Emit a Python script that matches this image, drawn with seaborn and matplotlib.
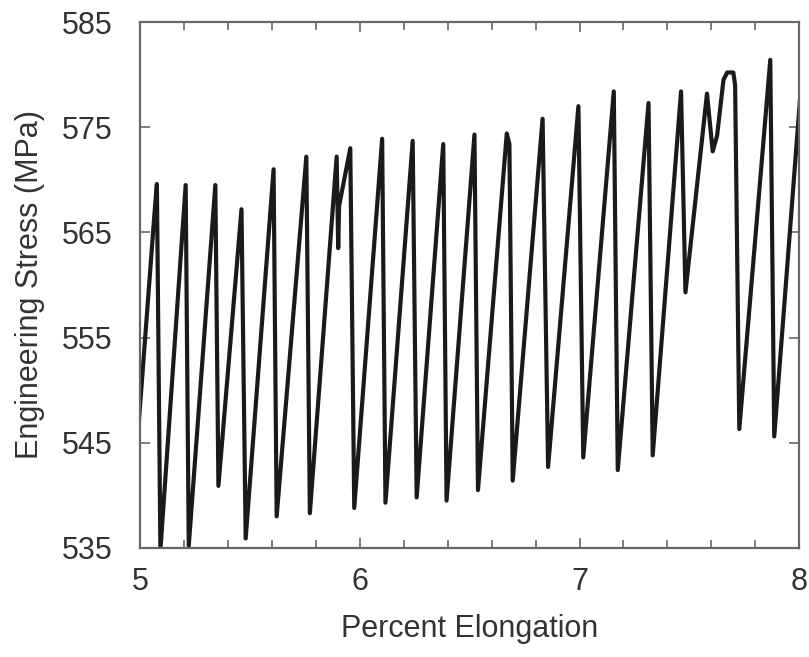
import matplotlib
matplotlib.use("Agg")
import matplotlib.pyplot as plt
from matplotlib.ticker import MultipleLocator
import seaborn as sns
import pandas as pd

# Serrated flow: engineering stress vs. percent elongation (turning points of the curve)
elongation = [
    4.995, 5.065, 5.077, 5.093,
    5.208, 5.222,
    5.343, 5.357,
    5.462, 5.481,
    5.608, 5.622,
    5.757, 5.773,
    5.895, 5.902, 5.906, 5.957, 5.975,
    6.102, 6.117,
    6.241, 6.259,
    6.380, 6.395,
    6.522, 6.538,
    6.669, 6.681, 6.696,
    6.832, 6.857,
    6.995, 7.017,
    7.156, 7.174,
    7.314, 7.333,
    7.462, 7.482,
    7.580, 7.606, 7.626, 7.655, 7.672, 7.700, 7.708, 7.727,
    7.868, 7.886,
    8.010,
]
stress = [
    547.0, 566.5, 569.6, 534.8,
    569.5, 535.2,
    569.5, 540.9,
    567.2, 535.9,
    571.0, 538.0,
    572.2, 538.3,
    572.2, 563.5, 567.5, 573.0, 538.8,
    573.9, 539.3,
    573.7, 539.8,
    573.4, 539.5,
    574.3, 540.5,
    574.4, 573.4, 541.4,
    575.8, 542.7,
    577.0, 543.6,
    578.4, 542.4,
    577.3, 543.8,
    578.4, 559.3,
    578.2, 572.7, 574.2, 579.5, 580.2, 580.2, 579.0, 546.3,
    581.4, 545.6,
    579.5,
]

x_ticks = [5, 6, 7, 8]
y_ticks = [535, 545, 555, 565, 575, 585]

df = pd.DataFrame({"elongation": elongation, "stress": stress})

sns.set_style("ticks")
plt.rcParams["font.family"] = ["Liberation Sans", "DejaVu Sans"]

fig = plt.figure(figsize=(8.09, 6.57), dpi=100)
ax = fig.add_axes([0.173, 0.166, 0.815, 0.8005])

sns.lineplot(data=df, x="elongation", y="stress", sort=False, estimator=None,
             color="#1a1a1a", linewidth=3.0, ax=ax)
for line in ax.get_lines():
    line.set_solid_joinstyle("round")
    line.set_solid_capstyle("round")

ax.set_xlim(5, 8)
ax.set_ylim(535, 585)
ax.set_xticks(x_ticks)
ax.set_yticks(y_ticks)
ax.xaxis.set_minor_locator(MultipleLocator(0.2))

text_color = "#333333"
spine_color = "#666666"
ax.tick_params(axis="both", which="both", direction="in", top=True, right=True,
               color=spine_color, width=1.2)
ax.tick_params(axis="both", which="major", length=7, labelsize=22, labelcolor=text_color)
ax.tick_params(axis="both", which="minor", length=6)
ax.tick_params(axis="y", which="major", pad=20)
ax.tick_params(axis="x", which="major", pad=14)

for side in ["left", "right", "top", "bottom"]:
    ax.spines[side].set_visible(True)
    ax.spines[side].set_color(spine_color)
    ax.spines[side].set_linewidth(1.6)

ax.set_xlabel("Percent Elongation", fontsize=22, color=text_color, labelpad=12)
ax.set_ylabel("Engineering Stress (MPa)", fontsize=22, color=text_color, labelpad=12)

fig.savefig("out.png", dpi=100)
